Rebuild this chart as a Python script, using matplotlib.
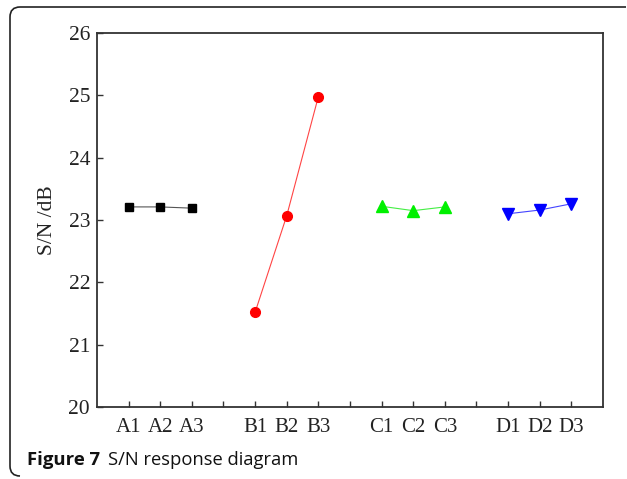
import matplotlib.pyplot as plt
from matplotlib.path import Path
from matplotlib.patches import PathPatch

# Values
levels_a = ["A1", "A2", "A3"]
levels_b = ["B1", "B2", "B3"]
levels_c = ["C1", "C2", "C3"]
levels_d = ["D1", "D2", "D3"]
sn_a = [23.21, 23.21, 23.19]
sn_b = [21.52, 23.07, 24.98]
sn_c = [23.22, 23.15, 23.21]
sn_d = [23.10, 23.16, 23.26]

groups = [
    (levels_a, sn_a, "black", "#555555", "s", 6),
    (levels_b, sn_b, "red", "#ff4444", "o", 7),
    (levels_c, sn_c, "#00f000", "#44ee44", "^", 8),
    (levels_d, sn_d, "blue", "#4444ff", "v", 8),
]

serif = ["Liberation Serif", "DejaVu Serif"]

fig = plt.figure(figsize=(6.27, 4.79), dpi=100)
ax = fig.add_axes([0.1547, 0.1503, 0.807, 0.7808])

tick_pos, tick_lab = [], []
pos = 1
for labels, vals, color, line_color, marker, ms in groups:
    xs = list(range(pos, pos + len(vals)))
    ax.plot(xs, vals, color=line_color, lw=0.8)
    ax.plot(xs, vals, ls="none", marker=marker, ms=ms,
            markeredgecolor=color, markerfacecolor=color)
    tick_pos += xs
    tick_lab += labels
    pos += len(vals) + 1

ax.set_xlim(0, 16)
ax.set_ylim(20, 26)
ax.set_xticks(range(1, 16))
ax.set_xticklabels([tick_lab[tick_pos.index(i)] if i in tick_pos else "" for i in range(1, 16)],
                   family=serif, fontsize=15, color="#222222")
ax.set_yticks(range(20, 27))
ax.set_yticklabels([str(v) for v in range(20, 27)], family=serif, fontsize=15.5, color="#222222")
ax.tick_params(direction="in", length=4, width=1, color="#333333")
ax.tick_params(axis="x", pad=8)
ax.tick_params(axis="y", pad=5)
for sp in ax.spines.values():
    sp.set_linewidth(1.3)
    sp.set_color("#333333")
ax.set_ylabel("S/N /dB", family=serif, fontsize=15.5, color="#222222", labelpad=8)

# caption frame: top and left edges with rounded corners
W, H = 627, 479
x0, y0, y1, x1, r = 10, 7, 476, 626, 10
verts = [
    (x1, y0), (x0 + r, y0), (x0, y0), (x0, y0 + r),
    (x0, y1 - r), (x0, y1), (x0 + r, y1),
]
codes = [Path.MOVETO, Path.LINETO, Path.CURVE3, Path.CURVE3,
         Path.LINETO, Path.CURVE3, Path.CURVE3]
verts = [(x / W, 1 - y / H) for x, y in verts]
frame = PathPatch(Path(verts, codes), transform=fig.transFigure, fill=False,
                  lw=1.2, edgecolor="#222222")
fig.add_artist(frame)

fig.text(27 / W, 1 - 465 / H, "Figure 7", family=["Open Sans", "DejaVu Sans"],
         fontweight="bold", fontsize=13.3, va="baseline", color="#111111")
fig.text(108 / W, 1 - 465 / H, "S/N response diagram", family=["Open Sans", "DejaVu Sans"],
         fontsize=13.2, va="baseline", color="#111111")

fig.savefig("out.png", dpi=100)
